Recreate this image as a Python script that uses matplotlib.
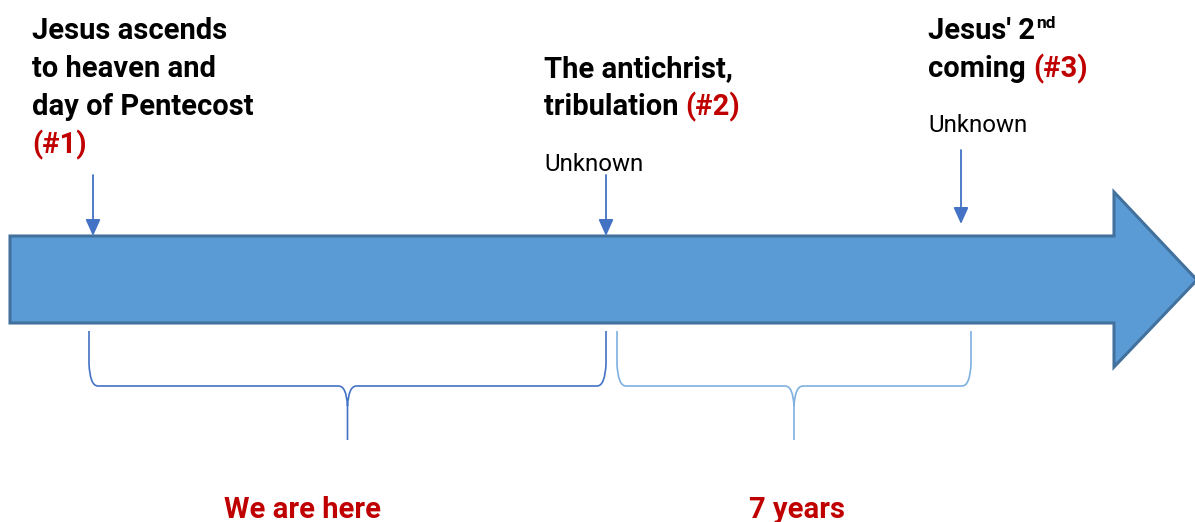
import matplotlib
matplotlib.use("Agg")
import matplotlib.pyplot as plt
from matplotlib.patches import Polygon
from matplotlib.path import Path
from matplotlib.patches import PathPatch

# ---- content ----
event_x = [93, 606, 961]            # pointer positions along the timeline
event_titles = [
    [("Jesus ascends", None)], [("to heaven and", None)], [("day of Pentecost", None)], [("(#1)", "red")],
]
title2 = [[("The antichrist,", None)], [("tribulation ", None), ("(#2)", "red")]]
title3_line2 = [("coming ", None), ("(#3)", "red")]
unknown_label = "Unknown"
span_labels = ["We are here", "7 years"]
spans = [(89, 606), (617, 971)]

W, H = 1195, 522
fig = plt.figure(figsize=(W / 100, H / 100), dpi=100)
ax = fig.add_axes([0, 0, 1, 1])
ax.set_xlim(0, W)
ax.set_ylim(H, 0)
ax.axis("off")

FILL = "#5B9BD5"
EDGE = "#41719C"
PTR = "#4472C4"
RED = "#C00000"
FONT = "Roboto"

# big timeline arrow
body_top, body_bot = 236, 323
head_x, head_top, head_bot, tip_x, tip_y = 1114, 192, 367, 1197, 280
arrow = Polygon([(10, body_top), (head_x, body_top), (head_x, head_top), (tip_x, tip_y),
                 (head_x, head_bot), (head_x, body_bot), (10, body_bot)],
                closed=True, facecolor=FILL, edgecolor=EDGE, linewidth=2.2, zorder=2)
ax.add_patch(arrow)

# pointer arrows
ptr_ranges = [(175, 236), (175, 236), (150, 224)]
for x, (y0, y1) in zip(event_x, ptr_ranges):
    ax.annotate("", xy=(x, y1), xytext=(x, y0),
                arrowprops=dict(arrowstyle="-|>,head_width=0.45,head_length=1.0",
                                color=PTR, lw=1.3, shrinkA=0, shrinkB=0), zorder=3)

# braces
def brace(x0, x1, color, ytop=331, ybar=386, ytip=440):
    xm = (x0 + x1) / 2
    r = 9
    verts = [(x0, ytop), (x0, ybar - 22), (x0 + 1, ybar), (x0 + r, ybar),
             (xm - r, ybar), (xm - 1, ybar), (xm, ybar + 20), (xm, ytip),
             (xm, ybar + 20), (xm + 1, ybar), (xm + r, ybar),
             (x1 - r, ybar), (x1 - 1, ybar), (x1, ybar - 22), (x1, ytop)]
    codes = [Path.MOVETO, Path.LINETO, Path.CURVE3, Path.CURVE3,
             Path.LINETO, Path.CURVE3, Path.CURVE3, Path.LINETO,
             Path.MOVETO, Path.CURVE3, Path.CURVE3,
             Path.LINETO, Path.CURVE3, Path.CURVE3, Path.LINETO]
    ax.add_patch(PathPatch(Path(verts, codes), facecolor="none", edgecolor=color, lw=1.2))
    return xm

brace_colors = ["#4472C4", "#7EB0E0"]
mids = [brace(a, b, c) for (a, b), c in zip(spans, brace_colors)]

fig.canvas.draw()
renderer = fig.canvas.get_renderer()

def runs(x, y, parts, size=21, weight="bold"):
    cur = x
    for txt, col in parts:
        t = ax.text(cur, y, txt, fontsize=size, fontweight=weight, family=FONT,
                    color=RED if col == "red" else "black", va="baseline", ha="left")
        bb = t.get_window_extent(renderer)
        cur += bb.width
    return cur

# event 1
for i, parts in enumerate(event_titles):
    runs(32, 39 + 38 * i, parts)
# event 2
runs(544, 77, title2[0])
runs(544, 115, title2[1])
ax.text(544, 171, unknown_label, fontsize=17.3, family=FONT, va="baseline", ha="left")
# event 3
end = runs(928, 39, [("Jesus' 2", None)])
ax.text(end + 1, 28, "nd", fontsize=12.5, fontweight="bold", family=FONT, va="baseline", ha="left")
runs(928, 77, title3_line2)
ax.text(928, 132, unknown_label, fontsize=17.3, family=FONT, va="baseline", ha="left")

# span labels
for xm, lab in zip([303, 797], span_labels):
    ax.text(xm, 518, lab, fontsize=21, fontweight="bold", family=FONT, color=RED,
            va="baseline", ha="center")

fig.savefig("out.png", dpi=100)
